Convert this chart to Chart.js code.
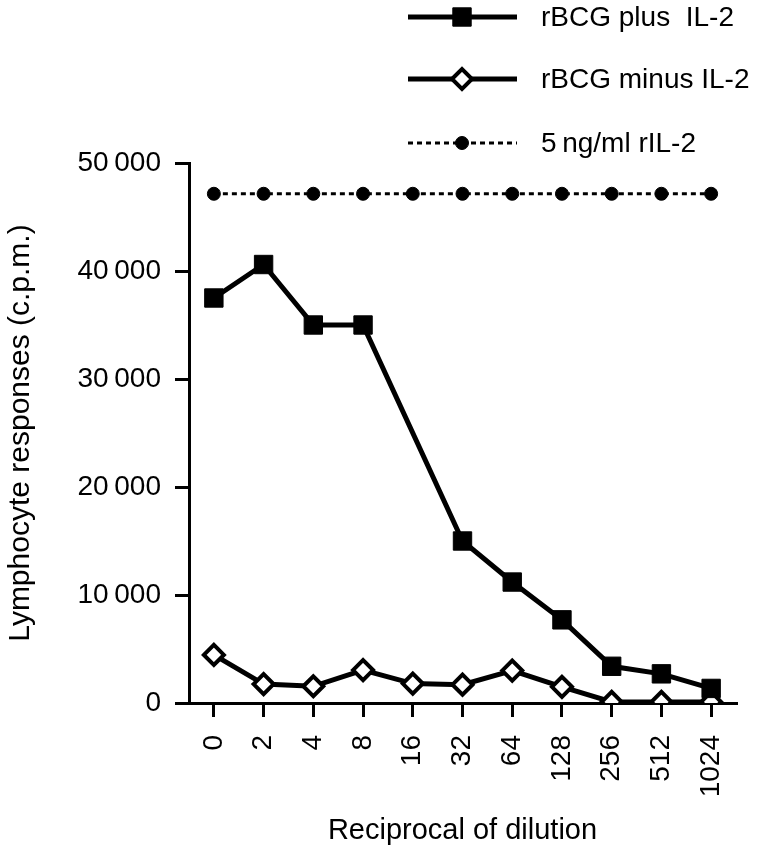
<!DOCTYPE html>
<html lang="en">
<head>
  <meta charset="UTF-8">
  <title>Lymphocyte responses</title>
  <script src="https://cdn.jsdelivr.net/npm/chart.js"></script>
  <style>
    html, body { margin: 0; padding: 0; background: #fff; }
    #wrap { width: 767px; height: 854px; }
  </style>
</head>
<body>
  <div id="wrap"><canvas id="grafico" width="767" height="854"></canvas></div>

  <script>
    // data
    const dilutions = ['0', '2', '4', '8', '16', '32', '64', '128', '256', '512', '1024'];
    const plusIL2 = [37500, 40600, 35000, 35000, null, 15000, 11200, 7700, 3400, 2700, 1350];
    const minusIL2 = [4450, 1750, 1550, 3050, 1800, 1700, 3000, 1500, 100, 100, 100];
    const rIL2 = [47150, 47150, 47150, 47150, 47150, 47150, 47150, 47150, 47150, 47150, 47150];
    const seriesNames = ['rBCG plus  IL-2', 'rBCG minus IL-2', '5\u2009ng/ml rIL-2'];
    const yTicks = [0, 10000, 20000, 30000, 40000, 50000];

    const FONT = 'Liberation Sans, Arial, Helvetica, sans-serif';

    // legend in the top right corner: line, marker, text
    const legendRows = {
      id: 'legendRows',
      afterDraw(chart) {
        const ctx = chart.ctx;
        const rowsY = [17, 79, 143];
        chart.data.datasets.forEach((ds, i) => {
          const y = rowsY[i];
          ctx.save();
          ctx.strokeStyle = '#000';
          ctx.lineWidth = ds.borderWidth;
          ctx.setLineDash(ds.borderDash || []);
          ctx.beginPath();
          ctx.moveTo(408, y);
          ctx.lineTo(517, y);
          ctx.stroke();
          ctx.setLineDash([]);
          ctx.fillStyle = ds.pointBackgroundColor;
          ctx.strokeStyle = '#000';
          ctx.lineWidth = ds.pointBorderWidth;
          Chart.helpers.drawPoint(ctx, {
            pointStyle: ds.pointStyle, rotation: 0,
            radius: ds.pointRadius, borderWidth: ds.pointBorderWidth
          }, 462, y);
          ctx.fillStyle = '#000';
          ctx.font = '28px ' + FONT;
          ctx.textBaseline = 'middle';
          ctx.fillText(ds.label, 541, y + 1);
          ctx.restore();
        });
      }
    };

    const ctx = document.getElementById('grafico').getContext('2d');
    new Chart(ctx, {
      type: 'line',
      data: {
        labels: dilutions,
        datasets: [{
          label: seriesNames[0],
          data: plusIL2,
          borderColor: '#000',
          borderWidth: 5,
          pointStyle: 'rect',
          pointRadius: 13,
          pointBackgroundColor: '#000',
          pointBorderColor: '#000',
          pointBorderWidth: 1,
          spanGaps: true,
          tension: 0
        }, {
          label: seriesNames[1],
          data: minusIL2,
          borderColor: '#000',
          borderWidth: 5,
          pointStyle: 'rectRot',
          pointRadius: 10,
          pointBackgroundColor: '#fff',
          pointBorderColor: '#000',
          pointBorderWidth: 4,
          tension: 0
        }, {
          label: seriesNames[2],
          data: rIL2,
          borderColor: '#000',
          borderWidth: 3,
          borderDash: [5, 4],
          pointStyle: 'circle',
          pointRadius: 6.5,
          pointBackgroundColor: '#000',
          pointBorderColor: '#000',
          pointBorderWidth: 1,
          tension: 0
        }]
      },
      options: {
        responsive: false,
        animation: false,
        layout: { padding: { top: 163, right: 31, bottom: 0, left: 0 } },
        plugins: {
          legend: { display: false },
          tooltip: { enabled: false }
        },
        scales: {
          x: {
            offset: true,
            grid: { display: true, drawOnChartArea: false, drawTicks: true, tickLength: 14, color: '#000', lineWidth: 3 },
            border: { display: true, color: '#000', width: 3 },
            ticks: { color: '#000', font: { family: FONT, size: 28 }, minRotation: 90, maxRotation: 90, padding: 18, autoSkip: false },
            title: { display: true, text: 'Reciprocal of dilution', color: '#000', font: { family: FONT, size: 29 }, padding: { top: 0, bottom: 6 } },
            afterFit(scale) { scale.height = 151; }
          },
          y: {
            min: 0,
            max: 50000,
            afterBuildTicks(scale) { scale.ticks = yTicks.map(v => ({ value: v })); },
            grid: { display: true, drawOnChartArea: false, drawTicks: true, tickLength: 14, color: '#000', lineWidth: 3 },
            border: { display: true, color: '#000', width: 3 },
            ticks: {
              color: '#000', font: { family: FONT, size: 28 }, padding: 14,
              callback: v => v === 0 ? '0' : String(v / 1000) + '\u2009000'
            },
            title: { display: true, text: 'Lymphocyte responses (c.p.m.)', color: '#000', font: { family: FONT, size: 30 }, padding: { top: 3, bottom: 0 } },
            afterFit(scale) { scale.width = 189; }
          }
        }
      },
      plugins: [legendRows]
    });
  </script>
</body>
</html>
